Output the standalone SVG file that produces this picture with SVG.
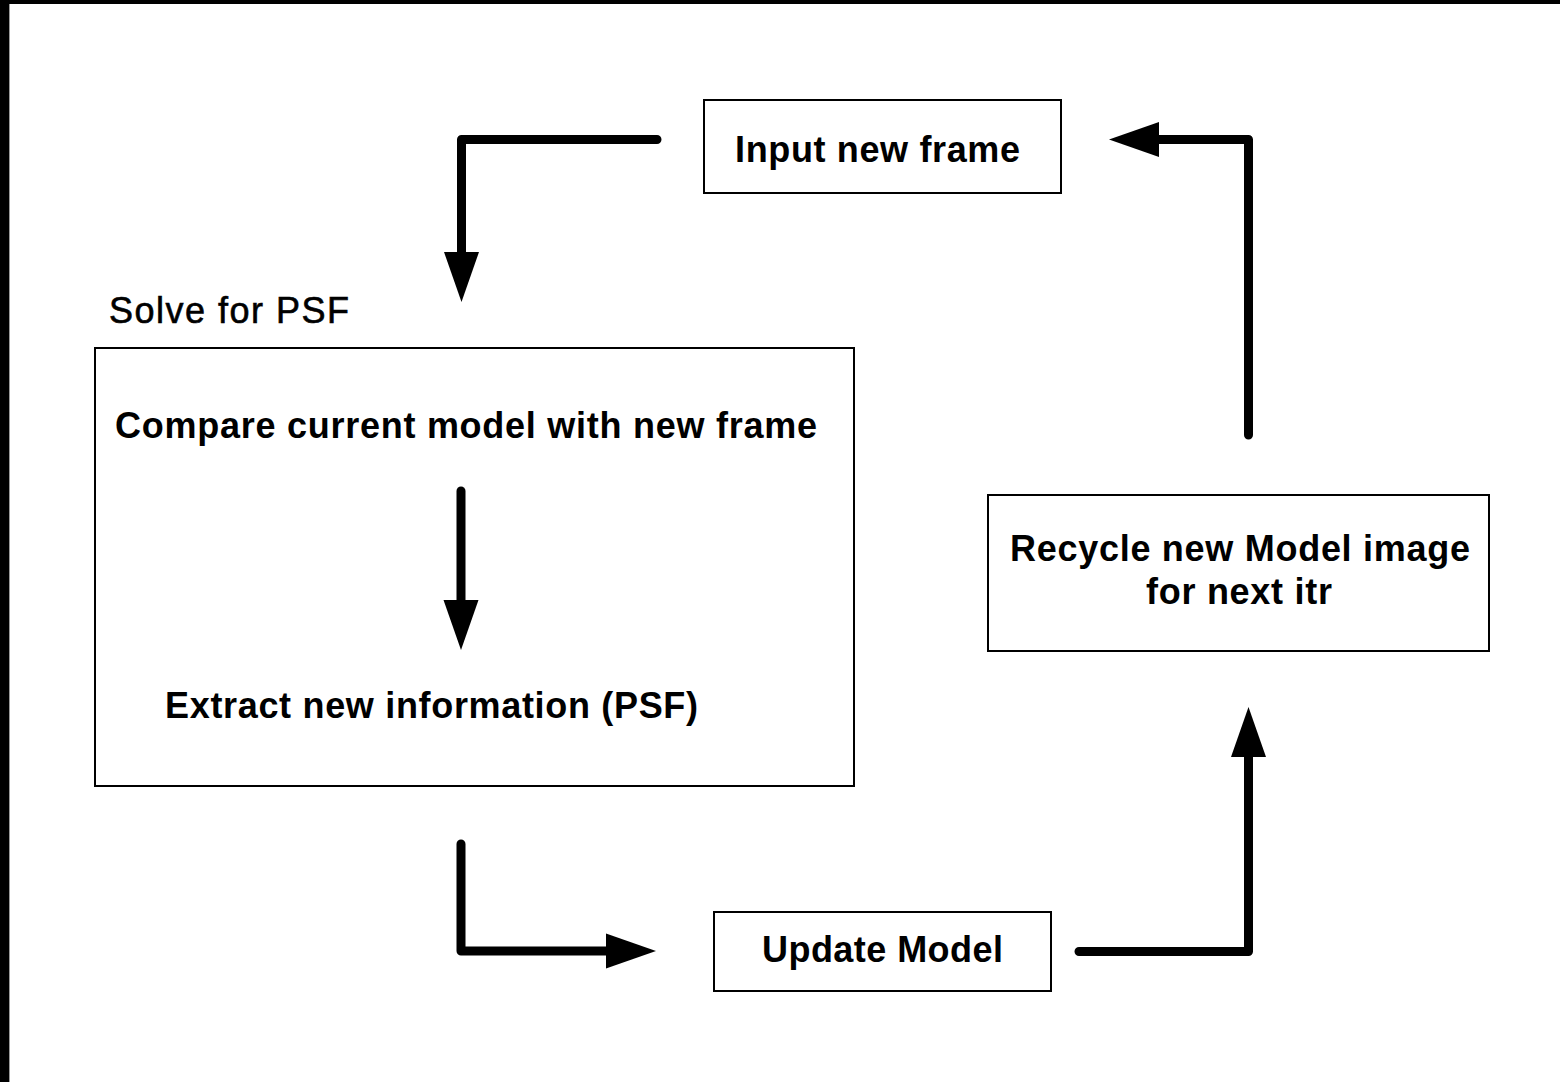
<svg xmlns="http://www.w3.org/2000/svg" width="1560" height="1082" viewBox="0 0 1560 1082">
  <style>
    .box { fill: #ffffff; stroke: #000000; stroke-width: 2; }
    .lbl { font-family: "Liberation Sans", Arial, sans-serif; font-size: 36px; font-weight: bold; fill: #000000; }
    .cap { font-family: "Liberation Sans", Arial, sans-serif; font-size: 36px; font-weight: normal; fill: #000000; stroke: #000000; stroke-width: 0.6; }
    .flow { fill: none; stroke: #000000; stroke-width: 9; stroke-linecap: round; stroke-linejoin: round; }
  </style>
  <defs>
    <marker id="head" markerUnits="userSpaceOnUse" markerWidth="50" markerHeight="36" refX="0" refY="17.5" orient="auto" overflow="visible">
      <path d="M0,0 L50,17.5 L0,35 Z" fill="#000000"/>
    </marker>
  </defs>

  <!-- page background with dark frame at top and left -->
  <rect x="0" y="0" width="1560" height="1082" fill="#ffffff"/>
  <rect x="0" y="0" width="1560" height="4" fill="#000000"/>
  <rect x="0" y="0" width="9" height="1082" fill="#000000"/>
  <rect x="9" y="4" width="1" height="1078" fill="#9a9a9a"/>

  <!-- nodes -->
  <g id="input-frame">
    <rect class="box" x="704" y="100" width="357" height="93"/>
    <text class="lbl" x="735" y="162" textLength="285" lengthAdjust="spacing">Input new frame</text>
  </g>

  <g id="solve-psf">
    <text class="cap" x="109" y="323" textLength="240" lengthAdjust="spacing">Solve for PSF</text>
    <rect class="box" x="95" y="348" width="759" height="438"/>
    <text class="lbl" x="115" y="438" textLength="702" lengthAdjust="spacing">Compare current model with new frame</text>
    <text class="lbl" x="165" y="718" textLength="533" lengthAdjust="spacing">Extract new information (PSF)</text>
  </g>

  <g id="recycle-model">
    <rect class="box" x="988" y="495" width="501" height="156"/>
    <text class="lbl" x="1010" y="561" textLength="460" lengthAdjust="spacing">Recycle new Model image</text>
    <text class="lbl" x="1146" y="604" textLength="186" lengthAdjust="spacing">for next itr</text>
  </g>

  <g id="update-model">
    <rect class="box" x="714" y="912" width="337" height="79"/>
    <text class="lbl" x="762" y="962" textLength="241" lengthAdjust="spacing">Update Model</text>
  </g>

  <!-- connectors -->
  <g id="connectors">
    <path class="flow" d="M657,139.5 H461.5 V252" marker-end="url(#head)"/>
    <path class="flow" d="M461,491 V600" marker-end="url(#head)"/>
    <path class="flow" d="M461,844 V951 H606" marker-end="url(#head)"/>
    <path class="flow" d="M1079,951.5 H1248.5 V757" marker-end="url(#head)"/>
    <path class="flow" d="M1248.5,435 V139.5 H1159" marker-end="url(#head)"/>
  </g>
</svg>
